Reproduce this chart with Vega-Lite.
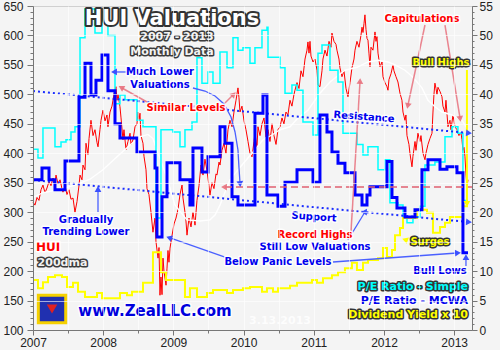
{
"$schema": "https://vega.github.io/schema/vega-lite/v6.json",
"width": 439, "height": 324,
"autosize": {"type": "none"},
"padding": {"left": 33, "top": 6, "right": 28, "bottom": 20},
"background": "#f4f4f4",
"config": {"view": {"stroke": "#8a8a8a", "strokeWidth": 1}, "text": {"font": "DejaVu Sans", "fontWeight": "bold", "baseline": "middle", "align": "center"}},
"datasets": {
"hui": [
{"t":2007.000,"v":317},{"t":2007.028,"v":312},{"t":2007.057,"v":325},{"t":2007.085,"v":320},{"t":2007.114,"v":338},{"t":2007.142,"v":346},{"t":2007.171,"v":333},{"t":2007.199,"v":341},{"t":2007.228,"v":352},{"t":2007.256,"v":345},{"t":2007.285,"v":358},{"t":2007.313,"v":350},{"t":2007.328,"v":363},{"t":2007.356,"v":348},{"t":2007.385,"v":355},{"t":2007.413,"v":340},{"t":2007.427,"v":334},{"t":2007.456,"v":345},{"t":2007.484,"v":330},{"t":2007.513,"v":338},{"t":2007.541,"v":322},{"t":2007.570,"v":324},{"t":2007.598,"v":300},{"t":2007.627,"v":318},{"t":2007.655,"v":345},{"t":2007.670,"v":363},{"t":2007.698,"v":355},{"t":2007.712,"v":380},{"t":2007.741,"v":372},{"t":2007.755,"v":417},{"t":2007.783,"v":398},{"t":2007.798,"v":425},{"t":2007.826,"v":456},{"t":2007.855,"v":430},{"t":2007.883,"v":440},{"t":2007.912,"v":418},{"t":2007.926,"v":411},{"t":2007.954,"v":440},{"t":2007.969,"v":456},{"t":2007.997,"v":473},
{"t":2008.026,"v":455},{"t":2008.054,"v":465},{"t":2008.068,"v":445},{"t":2008.097,"v":470},{"t":2008.125,"v":480},{"t":2008.154,"v":500},{"t":2008.182,"v":513},{"t":2008.197,"v":490},{"t":2008.211,"v":500},{"t":2008.239,"v":479},{"t":2008.254,"v":460},{"t":2008.282,"v":423},{"t":2008.296,"v":440},{"t":2008.325,"v":406},{"t":2008.353,"v":420},{"t":2008.382,"v":434},{"t":2008.396,"v":415},{"t":2008.425,"v":423},{"t":2008.453,"v":445},{"t":2008.481,"v":450},{"t":2008.496,"v":470},{"t":2008.510,"v":455},{"t":2008.524,"v":468},{"t":2008.538,"v":430},{"t":2008.567,"v":417},{"t":2008.581,"v":395},{"t":2008.610,"v":372},{"t":2008.624,"v":340},{"t":2008.652,"v":330},{"t":2008.681,"v":300},{"t":2008.709,"v":266},{"t":2008.738,"v":290},{"t":2008.752,"v":250},{"t":2008.781,"v":222},{"t":2008.795,"v":240},{"t":2008.809,"v":159},{"t":2008.823,"v":190},{"t":2008.838,"v":160},{"t":2008.852,"v":222},{"t":2008.866,"v":200},{"t":2008.895,"v":176},{"t":2008.909,"v":205},{"t":2008.923,"v":235},{"t":2008.937,"v":215},{"t":2008.952,"v":239},{"t":2008.980,"v":260},
{"t":2009.009,"v":280},{"t":2009.037,"v":290},{"t":2009.066,"v":305},{"t":2009.094,"v":330},{"t":2009.123,"v":346},{"t":2009.137,"v":324},{"t":2009.165,"v":300},{"t":2009.179,"v":285},{"t":2009.194,"v":261},{"t":2009.222,"v":290},{"t":2009.251,"v":275},{"t":2009.279,"v":300},{"t":2009.308,"v":278},{"t":2009.336,"v":320},{"t":2009.365,"v":345},{"t":2009.393,"v":380},{"t":2009.422,"v":363},{"t":2009.450,"v":390},{"t":2009.479,"v":370},{"t":2009.507,"v":345},{"t":2009.521,"v":329},{"t":2009.550,"v":350},{"t":2009.578,"v":340},{"t":2009.607,"v":365},{"t":2009.621,"v":363},{"t":2009.650,"v":385},{"t":2009.664,"v":380},{"t":2009.692,"v":405},{"t":2009.721,"v":417},{"t":2009.749,"v":400},{"t":2009.778,"v":440},{"t":2009.806,"v":456},{"t":2009.835,"v":445},{"t":2009.863,"v":470},{"t":2009.892,"v":490},{"t":2009.920,"v":511},{"t":2009.934,"v":495},{"t":2009.949,"v":470},{"t":2009.977,"v":480},
{"t":2010.006,"v":455},{"t":2010.034,"v":440},{"t":2010.063,"v":420},{"t":2010.091,"v":400},{"t":2010.120,"v":394},{"t":2010.148,"v":420},{"t":2010.162,"v":434},{"t":2010.191,"v":410},{"t":2010.205,"v":445},{"t":2010.234,"v":430},{"t":2010.262,"v":450},{"t":2010.291,"v":460},{"t":2010.319,"v":428},{"t":2010.348,"v":440},{"t":2010.376,"v":420},{"t":2010.405,"v":450},{"t":2010.433,"v":430},{"t":2010.462,"v":415},{"t":2010.490,"v":440},{"t":2010.519,"v":445},{"t":2010.547,"v":460},{"t":2010.575,"v":450},{"t":2010.604,"v":470},{"t":2010.632,"v":465},{"t":2010.661,"v":490},{"t":2010.689,"v":480},{"t":2010.718,"v":500},{"t":2010.732,"v":507},{"t":2010.761,"v":520},{"t":2010.789,"v":510},{"t":2010.818,"v":540},{"t":2010.846,"v":530},{"t":2010.875,"v":560},{"t":2010.903,"v":575},{"t":2010.917,"v":589},{"t":2010.932,"v":570},{"t":2010.946,"v":590},{"t":2010.960,"v":565},{"t":2010.989,"v":555},
{"t":2011.017,"v":560},{"t":2011.046,"v":541},{"t":2011.060,"v":516},{"t":2011.088,"v":513},{"t":2011.117,"v":540},{"t":2011.131,"v":560},{"t":2011.160,"v":575},{"t":2011.188,"v":565},{"t":2011.217,"v":590},{"t":2011.245,"v":580},{"t":2011.259,"v":604},{"t":2011.288,"v":590},{"t":2011.316,"v":585},{"t":2011.330,"v":575},{"t":2011.359,"v":560},{"t":2011.373,"v":545},{"t":2011.402,"v":530},{"t":2011.430,"v":540},{"t":2011.459,"v":510},{"t":2011.487,"v":496},{"t":2011.516,"v":520},{"t":2011.544,"v":545},{"t":2011.573,"v":560},{"t":2011.587,"v":575},{"t":2011.615,"v":590},{"t":2011.644,"v":580},{"t":2011.672,"v":600},{"t":2011.687,"v":614},{"t":2011.701,"v":605},{"t":2011.715,"v":620},{"t":2011.729,"v":635},{"t":2011.744,"v":610},{"t":2011.758,"v":595},{"t":2011.772,"v":592},{"t":2011.786,"v":570},{"t":2011.801,"v":547},{"t":2011.815,"v":580},{"t":2011.843,"v":575},{"t":2011.872,"v":606},{"t":2011.886,"v":590},{"t":2011.900,"v":598},{"t":2011.915,"v":570},{"t":2011.943,"v":547},{"t":2011.972,"v":555},{"t":2011.986,"v":530},
{"t":2012.014,"v":520},{"t":2012.043,"v":513},{"t":2012.057,"v":507},{"t":2012.071,"v":525},{"t":2012.100,"v":535},{"t":2012.128,"v":550},{"t":2012.142,"v":540},{"t":2012.171,"v":530},{"t":2012.199,"v":521},{"t":2012.228,"v":502},{"t":2012.256,"v":490},{"t":2012.271,"v":470},{"t":2012.299,"v":456},{"t":2012.313,"v":465},{"t":2012.328,"v":430},{"t":2012.356,"v":415},{"t":2012.370,"v":400},{"t":2012.399,"v":377},{"t":2012.413,"v":395},{"t":2012.442,"v":420},{"t":2012.456,"v":405},{"t":2012.484,"v":434},{"t":2012.513,"v":420},{"t":2012.527,"v":430},{"t":2012.556,"v":400},{"t":2012.584,"v":389},{"t":2012.598,"v":400},{"t":2012.627,"v":415},{"t":2012.655,"v":425},{"t":2012.684,"v":434},{"t":2012.698,"v":470},{"t":2012.712,"v":500},{"t":2012.726,"v":519},{"t":2012.741,"v":510},{"t":2012.755,"v":500},{"t":2012.769,"v":512},{"t":2012.798,"v":505},{"t":2012.826,"v":496},{"t":2012.840,"v":480},{"t":2012.869,"v":470},{"t":2012.883,"v":490},{"t":2012.912,"v":445},{"t":2012.940,"v":456},{"t":2012.954,"v":440},{"t":2012.983,"v":465},
{"t":2013.011,"v":445},{"t":2013.040,"v":440},{"t":2013.068,"v":430},{"t":2013.097,"v":435},{"t":2013.111,"v":423},{"t":2013.125,"v":405},{"t":2013.140,"v":410},{"t":2013.154,"v":394},{"t":2013.168,"v":365},{"t":2013.182,"v":343},{"t":2013.197,"v":355}
],
"dma": [
{"t":2007.000,"v":325},{"t":2007.142,"v":333},{"t":2007.356,"v":338},{"t":2007.598,"v":346},{"t":2007.812,"v":356},{"t":2007.997,"v":372},{"t":2008.197,"v":394},{"t":2008.382,"v":414},{"t":2008.524,"v":428},{"t":2008.638,"v":432},{"t":2008.709,"v":425},{"t":2008.781,"v":400},{"t":2008.909,"v":358},{"t":2009.023,"v":312},{"t":2009.194,"v":287},{"t":2009.379,"v":285},{"t":2009.521,"v":287},{"t":2009.593,"v":295},{"t":2009.664,"v":312},{"t":2009.735,"v":334},{"t":2009.806,"v":355},{"t":2009.920,"v":372},{"t":2010.162,"v":406},{"t":2010.276,"v":423},{"t":2010.405,"v":431},{"t":2010.519,"v":440},{"t":2010.661,"v":445},{"t":2010.775,"v":460},{"t":2010.917,"v":473},{"t":2011.088,"v":502},{"t":2011.231,"v":521},{"t":2011.444,"v":541},{"t":2011.615,"v":546},{"t":2011.772,"v":555},{"t":2011.915,"v":558},{"t":2012.057,"v":555},{"t":2012.157,"v":550},{"t":2012.299,"v":541},{"t":2012.413,"v":529},{"t":2012.541,"v":511},{"t":2012.627,"v":490},{"t":2012.726,"v":479},{"t":2012.826,"v":470},{"t":2012.969,"v":465},{"t":2013.111,"v":456},{"t":2013.197,"v":440}
],
"simple": [
{"t":2007.000,"R":30.7},{"t":2007.071,"R":29.2},{"t":2007.142,"R":34.3},{"t":2007.313,"R":31.1},{"t":2007.399,"R":31.9},{"t":2007.470,"R":32.3},{"t":2007.541,"R":33.6},{"t":2007.598,"R":34.5},{"t":2007.670,"R":49.6},{"t":2007.741,"R":54.5},{"t":2007.883,"R":50.4},{"t":2007.983,"R":54.0},{"t":2008.068,"R":50.0},{"t":2008.168,"R":38.4},{"t":2008.239,"R":39.9},{"t":2008.311,"R":39.1},{"t":2008.481,"R":35.6},{"t":2008.567,"R":34.5},{"t":2008.752,"R":19.0},{"t":2008.823,"R":34.0},{"t":2008.994,"R":33.6},{"t":2009.094,"R":31.1},{"t":2009.165,"R":34.0},{"t":2009.265,"R":35.3},{"t":2009.336,"R":46.2},{"t":2009.407,"R":41.9},{"t":2009.493,"R":43.8},{"t":2009.564,"R":41.9},{"t":2009.664,"R":47.2},{"t":2009.764,"R":44.5},{"t":2009.849,"R":49.6},{"t":2009.920,"R":47.5},{"t":2009.991,"R":47.9},{"t":2010.091,"R":45.3},{"t":2010.162,"R":47.9},{"t":2010.262,"R":50.9},{"t":2010.333,"R":51.4},{"t":2010.348,"R":46.3},{"t":2010.519,"R":44.5},{"t":2010.590,"R":40.2},{"t":2010.689,"R":41.6},{"t":2010.761,"R":40.7},{"t":2010.846,"R":35.3},{"t":2010.989,"R":33.1},{"t":2011.060,"R":47.0},{"t":2011.117,"R":48.4},{"t":2011.231,"R":44.1},{"t":2011.345,"R":42.1},{"t":2011.416,"R":33.4},{"t":2011.615,"R":31.5},{"t":2011.701,"R":29.7},{"t":2011.772,"R":31.1},{"t":2011.915,"R":27.2},{"t":2012.014,"R":28.9},{"t":2012.085,"R":21.6},{"t":2012.199,"R":21.2},{"t":2012.271,"R":19.2},{"t":2012.328,"R":18.2},{"t":2012.413,"R":19.2},{"t":2012.513,"R":21.0},{"t":2012.584,"R":28.0},{"t":2012.726,"R":28.5},{"t":2012.869,"R":32.8},{"t":2012.969,"R":34.5},{"t":2013.054,"R":33.4},{"t":2013.125,"R":22.0},{"t":2013.197,"R":22.0}
],
"mcwa": [
{"t":2007.000,"R":25.5},{"t":2007.128,"R":27.5},{"t":2007.228,"R":25.5},{"t":2007.313,"R":23.8},{"t":2007.456,"R":28.7},{"t":2007.655,"R":39.5},{"t":2007.741,"R":45.3},{"t":2007.826,"R":39.9},{"t":2007.897,"R":42.4},{"t":2007.983,"R":46.7},{"t":2008.068,"R":40.6},{"t":2008.168,"R":35.0},{"t":2008.239,"R":32.6},{"t":2008.481,"R":30.2},{"t":2008.738,"R":27.5},{"t":2008.766,"R":15.8},{"t":2008.838,"R":22.6},{"t":2008.909,"R":28.4},{"t":2009.094,"R":25.5},{"t":2009.236,"R":21.2},{"t":2009.279,"R":30.9},{"t":2009.407,"R":26.8},{"t":2009.493,"R":29.4},{"t":2009.664,"R":34.5},{"t":2009.735,"R":31.7},{"t":2009.835,"R":22.6},{"t":2009.920,"R":21.2},{"t":2010.162,"R":36.8},{"t":2010.276,"R":39.9},{"t":2010.333,"R":22.9},{"t":2010.490,"R":21.0},{"t":2010.590,"R":25.1},{"t":2010.761,"R":27.2},{"t":2010.989,"R":25.1},{"t":2011.088,"R":36.5},{"t":2011.188,"R":33.6},{"t":2011.259,"R":30.2},{"t":2011.345,"R":28.3},{"t":2011.444,"R":26.7},{"t":2011.587,"R":22.9},{"t":2011.687,"R":21.2},{"t":2011.758,"R":22.9},{"t":2011.801,"R":24.3},{"t":2012.043,"R":28.6},{"t":2012.114,"R":22.5},{"t":2012.185,"R":20.7},{"t":2012.299,"R":19.2},{"t":2012.442,"R":20.4},{"t":2012.541,"R":27.2},{"t":2012.627,"R":28.9},{"t":2012.798,"R":27.3},{"t":2012.897,"R":27.7},{"t":2013.040,"R":26.7},{"t":2013.125,"R":13.1},{"t":2013.197,"R":13.1}
],
"yield": [
{"t":2007.000,"R":8.5},{"t":2007.071,"R":7.1},{"t":2007.142,"R":8.1},{"t":2007.214,"R":9.0},{"t":2007.313,"R":9.3},{"t":2007.413,"R":9.0},{"t":2007.484,"R":7.3},{"t":2007.570,"R":8.0},{"t":2007.641,"R":6.5},{"t":2007.741,"R":5.6},{"t":2007.912,"R":6.3},{"t":2007.983,"R":5.4},{"t":2008.239,"R":6.3},{"t":2008.339,"R":5.9},{"t":2008.410,"R":6.5},{"t":2008.567,"R":8.0},{"t":2008.709,"R":13.2},{"t":2008.823,"R":9.8},{"t":2008.895,"R":8.5},{"t":2009.165,"R":5.6},{"t":2009.236,"R":7.1},{"t":2009.336,"R":5.6},{"t":2009.479,"R":6.3},{"t":2009.564,"R":6.8},{"t":2009.764,"R":6.3},{"t":2009.849,"R":6.8},{"t":2009.991,"R":7.1},{"t":2010.091,"R":7.3},{"t":2010.262,"R":6.5},{"t":2010.333,"R":7.1},{"t":2010.419,"R":6.5},{"t":2010.490,"R":7.1},{"t":2010.661,"R":7.5},{"t":2010.761,"R":8.0},{"t":2010.974,"R":8.5},{"t":2011.046,"R":8.0},{"t":2011.131,"R":8.8},{"t":2011.259,"R":9.3},{"t":2011.345,"R":9.8},{"t":2011.444,"R":10.5},{"t":2011.544,"R":11.4},{"t":2011.615,"R":10.2},{"t":2011.701,"R":11.4},{"t":2011.772,"R":11.9},{"t":2011.915,"R":12.2},{"t":2011.986,"R":13.9},{"t":2012.043,"R":12.4},{"t":2012.114,"R":13.6},{"t":2012.157,"R":16.1},{"t":2012.228,"R":17.3},{"t":2012.271,"R":19.0},{"t":2012.470,"R":20.4},{"t":2012.613,"R":19.9},{"t":2012.698,"R":16.5},{"t":2012.798,"R":17.5},{"t":2012.869,"R":18.2},{"t":2012.940,"R":19.2},{"t":2013.125,"R":21.0},{"t":2013.197,"R":21.0}
],
"trends": [
{"line":"Resistance","t":2007.0,"R":40.57},{"line":"Resistance","t":2013.197,"R":33.44},
{"line":"Support","t":2007.0,"R":25.46},{"line":"Support","t":2013.197,"R":18.33}
],
"level": [{"t":2009.735,"R":24.27},{"t":2013.254,"R":24.27}],
"arrows": [
{"id":"a1","kind":"valuation","t":2008.339,"R":43.8},{"id":"a1","kind":"valuation","t":2008.168,"R":43.8},
{"id":"a2","kind":"valuation","t":2009.279,"R":41.08},{"id":"a2","kind":"valuation","t":2009.45,"R":40.57},{"id":"a2","kind":"valuation","t":2009.593,"R":39.72},{"id":"a2","kind":"valuation","t":2009.721,"R":38.36},{"id":"a2","kind":"valuation","t":2009.821,"R":36.16},{"id":"a2","kind":"valuation","t":2009.878,"R":33.61},{"id":"a2","kind":"valuation","t":2009.92,"R":30.56},{"id":"a2","kind":"valuation","t":2009.934,"R":27.67},{"id":"a2","kind":"valuation","t":2009.949,"R":24.95},
{"id":"a3","kind":"valuation","t":2007.926,"R":20.03},{"id":"a3","kind":"valuation","t":2007.926,"R":23.77},
{"id":"a4","kind":"valuation","t":2009.735,"R":12.39},{"id":"a4","kind":"valuation","t":2008.952,"R":15.62},
{"id":"a5","kind":"valuation","t":2011.274,"R":11.54},{"id":"a5","kind":"valuation","t":2013.04,"R":13.07},
{"id":"a6","kind":"valuation","t":2011.487,"R":15.28},{"id":"a6","kind":"valuation","t":2011.729,"R":20.03},
{"id":"a7","kind":"valuation","t":2013.168,"R":10.86},{"id":"a7","kind":"valuation","t":2013.168,"R":12.22},
{"id":"a8","kind":"price","t":2008.624,"R":38.7},{"id":"a8","kind":"price","t":2008.268,"R":41.08},
{"id":"a9","kind":"price","t":2009.735,"R":38.53},{"id":"a9","kind":"price","t":2009.849,"R":39.89},
{"id":"a10","kind":"price","t":2011.53,"R":16.64},{"id":"a10","kind":"price","t":2011.658,"R":42.1},
{"id":"a11","kind":"price","t":2012.584,"R":51.77},{"id":"a11","kind":"price","t":2012.342,"R":38.19},
{"id":"a12","kind":"price","t":2012.869,"R":51.77},{"id":"a12","kind":"price","t":2013.083,"R":35.99},
{"id":"a13","kind":"dividend","t":2013.182,"R":44.14},{"id":"a13","kind":"dividend","t":2013.182,"R":21.56}
],
"heads": [
{"kind":"valuation","t":2008.168,"R":43.8,"dir":270},{"kind":"valuation","t":2009.949,"R":24.95,"dir":175},{"kind":"valuation","t":2007.926,"R":23.77,"dir":0},{"kind":"valuation","t":2008.952,"R":15.62,"dir":289},{"kind":"valuation","t":2013.04,"R":13.07,"dir":86},{"kind":"valuation","t":2011.729,"R":20.03,"dir":31},{"kind":"valuation","t":2013.168,"R":12.22,"dir":0},
{"kind":"trend","t":2013.197,"R":33.44,"dir":95},{"kind":"trend","t":2013.197,"R":18.33,"dir":95},
{"kind":"price","t":2008.268,"R":41.08,"dir":299},{"kind":"price","t":2009.849,"R":39.89,"dir":45},{"kind":"price","t":2011.658,"R":42.1,"dir":3},{"kind":"price","t":2012.342,"R":38.19,"dir":192},{"kind":"price","t":2013.083,"R":35.99,"dir":171},{"kind":"price","t":2009.735,"R":24.27,"dir":270},
{"kind":"dividend","t":2013.182,"R":21.56,"dir":180},{"kind":"dividend","t":2012.313,"R":15.28,"dir":290}
],
"logo": [{"t":2007.271,"R":3.56}],
"bands": [
{"lo":0,"hi":1},{"lo":1,"hi":2},{"lo":2,"hi":3},{"lo":3,"hi":4},{"lo":4,"hi":5},{"lo":5,"hi":6},{"lo":6,"hi":7},{"lo":7,"hi":8},{"lo":8,"hi":9},{"lo":9,"hi":10},{"lo":10,"hi":11},{"lo":11,"hi":12},{"lo":12,"hi":13},{"lo":13,"hi":14},{"lo":14,"hi":15},{"lo":15,"hi":16},{"lo":16,"hi":17},{"lo":17,"hi":18},{"lo":18,"hi":19},{"lo":19,"hi":20},{"lo":20,"hi":21},{"lo":21,"hi":22},{"lo":22,"hi":23},{"lo":23,"hi":24},{"lo":24,"hi":25},{"lo":25,"hi":26},{"lo":26,"hi":27},{"lo":27,"hi":28},{"lo":28,"hi":29},{"lo":29,"hi":30},{"lo":30,"hi":31},{"lo":31,"hi":32},{"lo":32,"hi":33},{"lo":33,"hi":34},{"lo":34,"hi":35},{"lo":35,"hi":36},{"lo":36,"hi":37},{"lo":37,"hi":38},{"lo":38,"hi":39},{"lo":39,"hi":40},{"lo":40,"hi":41},{"lo":41,"hi":42},{"lo":42,"hi":43},{"lo":43,"hi":44},{"lo":44,"hi":45},{"lo":45,"hi":46},{"lo":46,"hi":47},{"lo":47,"hi":48},{"lo":48,"hi":49},{"lo":49,"hi":50},{"lo":50,"hi":51},{"lo":51,"hi":52},{"lo":52,"hi":53},{"lo":53,"hi":54},{"lo":54,"hi":55}
],
"notes": [
{"txt":"HUI Valuations","kind":"title","t":2008.98,"R":52.79},
{"txt":"2007 - 2013","kind":"subtitle","t":2009.051,"R":49.74},
{"txt":"Monthly Data","kind":"subtitle","t":2008.98,"R":47.19},
{"txt":"200dma","kind":"subtitle","t":2007.42,"R":11.37},
{"txt":"Much Lower","kind":"valuation","t":2008.809,"R":43.8},
{"txt":"Valuations","kind":"valuation","t":2008.809,"R":41.59},
{"txt":"Still Low Valuations","kind":"valuation","t":2011.017,"R":14.09},
{"txt":"Below Panic Levels","kind":"valuation","t":2010.49,"R":11.54},
{"txt":"Gradually","kind":"valuation","t":2007.755,"R":18.67},
{"txt":"Trending Lower","kind":"valuation","t":2007.755,"R":16.64},
{"txt":"Bull Lows","kind":"valuation","t":2012.798,"R":10.02},
{"txt":"Resistance","kind":"trend","t":2011.715,"R":36.16},
{"txt":"Support","kind":"trend","t":2011.003,"R":19.18},
{"txt":"Similar Levels","kind":"price","t":2009.179,"R":37.68},
{"txt":"Capitulations","kind":"price","t":2012.541,"R":52.79},
{"txt":"Record Highs","kind":"price","t":2011.017,"R":16.13},
{"txt":"Bull Highs","kind":"dividend","t":2012.812,"R":45.32},
{"txt":"Surges","kind":"dividend","t":2012.655,"R":14.94},
{"txt":"HUI","kind":"hui","t":2007.214,"R":14.09},
{"txt":"www.ZealLLC.com","kind":"site","t":2008.738,"R":3.23},
{"txt":"3.13.2013","kind":"date","t":2010.519,"R":1.53},
{"txt":"P/E Ratio - Simple","kind":"key simple","t":2013.197,"R":7.3},
{"txt":"P/E Ratio - MCWA","kind":"key mcwa","t":2013.197,"R":4.92},
{"txt":"Dividend Yield x 10","kind":"key yield","t":2013.197,"R":2.55}
]
},
"encoding": {
  "x": {"field": "t", "type": "quantitative", "scale": {"domain": [2007, 2013.254], "nice": false, "zero": false}, "axis": null},
  "y": {"field": "R", "type": "quantitative", "scale": {"domain": [0, 55], "nice": false, "zero": true}, "axis": null}
},
"layer": [
 {"data": {"name": "bands"}, "mark": {"type": "rect", "opacity": 1},
  "encoding": {
   "x": {"datum": 2007, "type": "quantitative", "scale": {"domain": [2007, 2013.254], "nice": false, "zero": false}, "axis": null},
   "x2": {"datum": 2013.254},
   "y": {"field": "lo", "type": "quantitative", "scale": {"domain": [0, 55], "nice": false, "zero": true}, "axis": null},
   "y2": {"field": "hi"},
   "color": {"field": "lo", "type": "quantitative", "scale": {"domain": [0, 54], "range": ["#e6ecf6", "#8ea6d8"]}, "legend": null}
  }},
 {"data": {"name": "hui"}, "mark": {"type": "line", "color": "#ff0000", "strokeWidth": 1},
  "encoding": {
   "x": {"field": "t", "type": "quantitative", "scale": {"domain": [2007, 2013.254], "nice": false, "zero": false},
    "axis": {"orient": "bottom", "zindex": 1, "values": [2007,2007.5,2008,2008.5,2009,2009.5,2010,2010.5,2011,2011.5,2012,2012.5,2013], "labelExpr": "datum.value % 1 === 0 ? '' + datum.value : ''", "labelFlush": false, "labelOverlap": false, "tickSize": {"condition": {"test": "datum.value % 1 === 0", "value": 5}, "value": 3}, "tickColor": "#777", "domainColor": "#777", "grid": true, "gridColor": "#ffffff", "gridOpacity": 0.6, "labelFont": "Liberation Sans", "labelFontSize": 12, "labelColor": "#222", "labelPadding": 2, "title": null}},
   "y": {"field": "v", "type": "quantitative", "scale": {"domain": [100, 650], "nice": false, "zero": false},
    "axis": {"zindex": 1, "orient": "left", "values": [100,110,120,130,140,150,160,170,180,190,200,210,220,230,240,250,260,270,280,290,300,310,320,330,340,350,360,370,380,390,400,410,420,430,440,450,460,470,480,490,500,510,520,530,540,550,560,570,580,590,600,610,620,630,640,650], "labelExpr": "datum.value % 50 === 0 ? datum.label : ''", "labelOverlap": false, "tickSize": {"condition": {"test": "datum.value % 50 === 0", "value": 6}, "value": 3}, "tickColor": "#777", "domainColor": "#777", "grid": true, "gridColor": "#ffffff", "gridOpacity": {"condition": {"test": "datum.value % 50 === 0", "value": 0.6}, "value": 0}, "labelFont": "Liberation Sans", "labelFontSize": 12, "labelColor": "#222", "labelPadding": 4, "title": null}}
  }},
 {"data": {"name": "dma"}, "mark": {"type": "line", "color": "#ffffff", "strokeWidth": 1.4},
  "encoding": {"y": {"field": "v", "type": "quantitative", "scale": {"domain": [100, 650], "nice": false, "zero": false}, "axis": null}}},
 {"data": {"name": "simple"}, "mark": {"type": "line", "color": "#00ffff", "strokeWidth": 1.5, "interpolate": "step-after"}},
 {"data": {"name": "yield"}, "mark": {"type": "line", "color": "#ffff00", "strokeWidth": 2, "interpolate": "step-after"}},
 {"data": {"name": "trends"}, "mark": {"type": "line", "color": "#1a2dff", "strokeWidth": 2, "strokeDash": [2, 3]}, "encoding": {"detail": {"field": "line"}}},
 {"data": {"name": "mcwa"}, "mark": {"type": "line", "color": "#0000ff", "strokeWidth": 3, "interpolate": "step-after"},
  "encoding": {"y": {"field": "R", "type": "quantitative", "scale": {"domain": [0, 55], "nice": false, "zero": true},
   "axis": {"zindex": 1, "orient": "right", "values": [0,1,2,3,4,5,6,7,8,9,10,11,12,13,14,15,16,17,18,19,20,21,22,23,24,25,26,27,28,29,30,31,32,33,34,35,36,37,38,39,40,41,42,43,44,45,46,47,48,49,50,51,52,53,54,55], "labelExpr": "datum.value % 5 === 0 ? datum.label : ''", "labelOverlap": false, "tickSize": {"condition": {"test": "datum.value % 5 === 0", "value": 5}, "value": 2}, "tickColor": "#777", "domainColor": "#777", "grid": false, "labelFont": "Liberation Sans", "labelFontSize": 12, "labelColor": "#222", "labelPadding": 2, "title": null}}}},
 {"data": {"name": "level"}, "mark": {"type": "line", "color": "#e06070", "strokeWidth": 2, "strokeDash": [7, 4], "opacity": 0.75}},
 {"data": {"name": "arrows"}, "transform": [{"filter": "datum.kind === 'valuation'"}], "mark": {"type": "line", "color": "#4a60ff", "strokeWidth": 1.3}, "encoding": {"detail": {"field": "id"}}},
 {"data": {"name": "arrows"}, "transform": [{"filter": "datum.kind === 'price'"}], "mark": {"type": "line", "color": "#e8707c", "strokeWidth": 1.5, "opacity": 0.85}, "encoding": {"detail": {"field": "id"}}},
 {"data": {"name": "arrows"}, "transform": [{"filter": "datum.kind === 'dividend'"}], "mark": {"type": "line", "color": "#ffff00", "strokeWidth": 2}, "encoding": {"detail": {"field": "id"}}},
 {"data": {"name": "heads"}, "transform": [{"filter": "datum.kind === 'valuation' || datum.kind === 'trend'"}], "mark": {"type": "point", "shape": "triangle", "filled": true, "size": 45, "color": "#3a50ff", "opacity": 1}, "encoding": {"angle": {"field": "dir", "type": "quantitative", "scale": null}}},
 {"data": {"name": "heads"}, "transform": [{"filter": "datum.kind === 'price'"}], "mark": {"type": "point", "shape": "triangle", "filled": true, "size": 45, "color": "#e8707c", "opacity": 0.9}, "encoding": {"angle": {"field": "dir", "type": "quantitative", "scale": null}}},
 {"data": {"name": "heads"}, "transform": [{"filter": "datum.kind === 'dividend'"}], "mark": {"type": "point", "shape": "triangle", "filled": true, "size": 45, "color": "#ffff00", "opacity": 1}, "encoding": {"angle": {"field": "dir", "type": "quantitative", "scale": null}}},
 {"data": {"name": "logo"}, "mark": {"type": "point", "shape": "square", "filled": true, "size": 750, "color": "#2030b0", "stroke": "#f5d000", "strokeWidth": 3, "opacity": 1}},
 {"data": {"name": "logo"}, "mark": {"type": "point", "shape": "triangle-down", "filled": true, "size": 110, "color": "#e02020", "opacity": 1}},
 {"data": {"name": "notes"}, "transform": [{"filter": "datum.kind === 'title'"}], "encoding": {"text": {"field": "txt"}},
  "layer": [{"mark": {"type": "text", "fontSize": 21, "fill": "#333333", "stroke": "#333333", "strokeWidth": 4, "strokeJoin": "round"}}, {"mark": {"type": "text", "fontSize": 21, "fill": "#ffffff"}}]},
 {"data": {"name": "notes"}, "transform": [{"filter": "datum.kind === 'subtitle'"}], "encoding": {"text": {"field": "txt"}},
  "layer": [{"mark": {"type": "text", "fontSize": 11, "fill": "#3c3c3c", "stroke": "#3c3c3c", "strokeWidth": 3, "strokeJoin": "round"}}, {"mark": {"type": "text", "fontSize": 11, "fill": "#f2f2f2"}}]},
 {"data": {"name": "notes"}, "transform": [{"filter": "datum.kind === 'valuation'"}], "encoding": {"text": {"field": "txt"}},
  "layer": [{"mark": {"type": "text", "fontSize": 10, "fill": "#ffffff", "stroke": "#ffffff", "strokeWidth": 3, "strokeJoin": "round", "opacity": 0.9}}, {"mark": {"type": "text", "fontSize": 10, "fill": "#0000ee"}}]},
 {"data": {"name": "notes"}, "transform": [{"filter": "datum.kind === 'trend'"}], "encoding": {"text": {"field": "txt"}},
  "layer": [{"mark": {"type": "text", "fontSize": 10, "angle": 4, "fill": "#ffffff", "stroke": "#ffffff", "strokeWidth": 3, "strokeJoin": "round", "opacity": 0.9}}, {"mark": {"type": "text", "fontSize": 10, "angle": 4, "fill": "#0000ee"}}]},
 {"data": {"name": "notes"}, "transform": [{"filter": "datum.kind === 'price'"}], "encoding": {"text": {"field": "txt"}},
  "layer": [{"mark": {"type": "text", "fontSize": 10, "fill": "#ffffff", "stroke": "#ffffff", "strokeWidth": 3, "strokeJoin": "round", "opacity": 0.9}}, {"mark": {"type": "text", "fontSize": 10, "fill": "#ff0000"}}]},
 {"data": {"name": "notes"}, "transform": [{"filter": "datum.kind === 'dividend'"}], "encoding": {"text": {"field": "txt"}},
  "layer": [{"mark": {"type": "text", "fontSize": 10, "fill": "#333333", "stroke": "#333333", "strokeWidth": 3, "strokeJoin": "round"}}, {"mark": {"type": "text", "fontSize": 10, "fill": "#ffff00"}}]},
 {"data": {"name": "notes"}, "transform": [{"filter": "datum.kind === 'hui'"}], "encoding": {"text": {"field": "txt"}},
  "layer": [{"mark": {"type": "text", "fontSize": 12, "fill": "#ffffff", "stroke": "#ffffff", "strokeWidth": 3, "strokeJoin": "round"}}, {"mark": {"type": "text", "fontSize": 12, "fill": "#ff0000"}}]},
 {"data": {"name": "notes"}, "transform": [{"filter": "datum.kind === 'site'"}], "encoding": {"text": {"field": "txt"}},
  "layer": [{"mark": {"type": "text", "fontSize": 15, "fill": "#ffffff", "stroke": "#ffffff", "strokeWidth": 3, "strokeJoin": "round", "opacity": 0.9}}, {"mark": {"type": "text", "fontSize": 15, "fill": "#0000dd"}}]},
 {"data": {"name": "notes"}, "transform": [{"filter": "datum.kind === 'date'"}], "mark": {"type": "text", "fontSize": 11, "fill": "#ffffff", "opacity": 0.85}, "encoding": {"text": {"field": "txt"}}},
 {"data": {"name": "notes"}, "transform": [{"filter": "datum.kind === 'key simple'"}], "encoding": {"text": {"field": "txt"}},
  "layer": [{"mark": {"type": "text", "align": "right", "fontSize": 11, "fill": "#333333", "stroke": "#333333", "strokeWidth": 3, "strokeJoin": "round"}}, {"mark": {"type": "text", "align": "right", "fontSize": 11, "fill": "#00ffff"}}]},
 {"data": {"name": "notes"}, "transform": [{"filter": "datum.kind === 'key mcwa'"}], "encoding": {"text": {"field": "txt"}},
  "layer": [{"mark": {"type": "text", "align": "right", "fontSize": 11, "fill": "#ffffff", "stroke": "#ffffff", "strokeWidth": 3, "strokeJoin": "round", "opacity": 0.9}}, {"mark": {"type": "text", "align": "right", "fontSize": 11, "fill": "#0000ee"}}]},
 {"data": {"name": "notes"}, "transform": [{"filter": "datum.kind === 'key yield'"}], "encoding": {"text": {"field": "txt"}},
  "layer": [{"mark": {"type": "text", "align": "right", "fontSize": 11, "fill": "#333333", "stroke": "#333333", "strokeWidth": 3, "strokeJoin": "round"}}, {"mark": {"type": "text", "align": "right", "fontSize": 11, "fill": "#ffff00"}}]}
],
"resolve": {"scale": {"x": "independent", "y": "independent"}}
}
